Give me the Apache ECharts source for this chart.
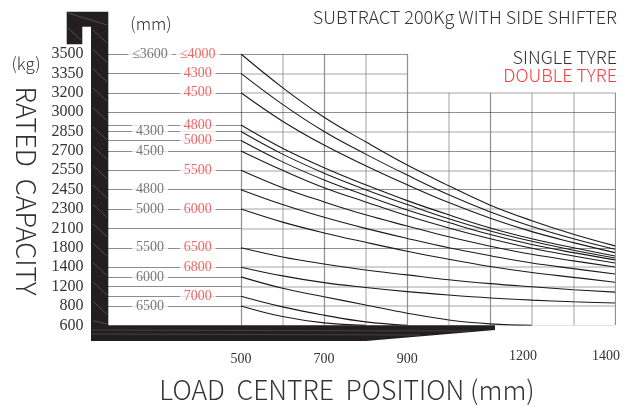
<!DOCTYPE html>
<html><head><meta charset="utf-8">
<script src="https://cdn.jsdelivr.net/npm/echarts@6/dist/echarts.min.js"></script>
<style>html,body{margin:0;padding:0;background:#fff}#c{width:643px;height:408px}</style>
</head><body><div id="c"></div>
<script>
// ---- data ----
const capacityLevels = [600,800,1200,1400,1800,2100,2300,2450,2550,2700,2850,3000,3200,3350,3500];
const loadCentres = [500,600,700,800,900,1000,1100,1200,1300,1400];
const xTickLabels = [500,700,900];
const xTickLabelsFar = [1200,1400];
const singleTyreLabels = ['≤3600','','','','4300','','4500','','4800','5000','5500','','6000','','6500'];
const doubleTyreLabels = ['≤4000','4300','4500','4800','','5000','','5500','','6000','6500','6800','','7000',''];
const curve01 = [3500,3240,2960,2770,2590,2470,2330,2180,2010,1830];
const curve02 = [3350,3080,2850,2675,2525,2410,2270,2120,1940,1770];
const curve03 = [3200,2930,2745,2585,2475,2350,2205,2050,1880,1700];
const curve04 = [2900,2720,2570,2475,2365,2240,2105,1940,1800,1630];
const curve05 = [2850,2675,2535,2450,2335,2200,2060,1900,1750,1590];
const curve06 = [2780,2615,2500,2405,2290,2160,2005,1850,1700,1550];
const curve07 = [2700,2550,2460,2355,2230,2105,1940,1790,1630,1485];
const curve08 = [2550,2460,2355,2240,2125,1970,1825,1665,1530,1405];
const curve09 = [2450,2335,2215,2100,1945,1800,1635,1485,1385,1330];
const curve10 = [2300,2165,2030,1885,1730,1565,1415,1345,1295,1245];
const curve11 = [1800,1610,1465,1370,1320,1270,1230,1195,1135,1085];
const curve12 = [1400,1310,1240,1180,1095,1025,965,920,885,860];
const curve13 = [1300,1165,990,820,725,655,615,600];
const curve14 = [1000,790,705,635,600];
const curve15 = [800,690,625,600];
const plainRows = [3000,2100,1200];

// ---- build ----
const curves = [curve01,curve02,curve03,curve04,curve05,curve06,curve07,curve08,curve09,curve10,curve11,curve12,curve13,curve14,curve15];
function kgToRow(v){
  for(let i=0;i<capacityLevels.length-1;i++){
    const a=capacityLevels[i], b=capacityLevels[i+1];
    if(v<=b) return i+(v-a)/(b-a);
  }
  return capacityLevels.length-1;
}
const RED='#ef4040', GRAY='#555', INK='#1a1a1a';
const SERIF='"Liberation Serif","DejaVu Serif",serif';
const SANS='"Noto Sans CJK SC","Noto Sans",sans-serif';
const X_MIN=140, X_MAX=1400, MAST_X=180, SINGLE_X=281, DOUBLE_X=396;
const lastRow = capacityLevels.length-1;

const gridLines=[];
const darkX=[500,700,900,1100,1400];
loadCentres.forEach(x=>{
  const top = x<=900 ? lastRow : 12;
  const dark = darkX.includes(x);
  gridLines.push({coords:[[x,0],[x,top]],lineStyle:{color:dark?'#222':'#8a8a8a',width:dark?1.2:1.6}});
});
const grayRows=[1,2,3,5,6,8,10,12,13];
capacityLevels.forEach((v,i)=>{
  const right = i<=12 ? 1400 : 900;
  const dark = !grayRows.includes(i);
  gridLines.push({coords:[[500,i],[right,i]],lineStyle:{color:dark?'#222':'#8a8a8a',width:dark?1.2:1.6}});
});
const stubs=[];
curves.forEach(c=>{ stubs.push({coords:[[MAST_X,kgToRow(c[0])],[500,kgToRow(c[0])]]}); });
plainRows.forEach(v=>{ stubs.push({coords:[[MAST_X,kgToRow(v)],[500,kgToRow(v)]]}); });

const labelData=[];
curves.forEach((c,i)=>{
  if(singleTyreLabels[i]) labelData.push({name:singleTyreLabels[i],value:[SINGLE_X,kgToRow(c[0])],label:{color:GRAY}});
  if(doubleTyreLabels[i]) labelData.push({name:doubleTyreLabels[i],value:[DOUBLE_X,kgToRow(c[0])],label:{color:RED}});
});

const series=[
  {type:'lines',coordinateSystem:'cartesian2d',silent:true,z:1,data:gridLines},
  {type:'lines',coordinateSystem:'cartesian2d',silent:true,z:2,lineStyle:{color:INK,width:1.2},data:stubs}
];
curves.forEach(c=>{
  series.push({type:'line',smooth:0.4,symbol:'none',silent:true,z:3,
    lineStyle:{color:INK,width:1.1},
    data:c.map((v,i)=>[loadCentres[i],kgToRow(v)])});
});
series.push({type:'scatter',symbolSize:2,itemStyle:{color:'rgba(0,0,0,0)'},z:5,silent:true,
  label:{show:true,position:'inside',formatter:p=>p.name,backgroundColor:'#fff',padding:[0,4],
    fontFamily:SERIF,fontSize:14},
  labelLayout:{hideOverlap:false},
  data:labelData});

// mast hatch decoration
const hatch=[];
for(let k=0;k<16;k++){
  const y=30+k*19.38;
  hatch.push({type:'line',z:11,shape:{x1:93,y1:y,x2:107,y2:Math.min(y+13,324)},style:{stroke:'#6a6a6a',lineWidth:0.6}});
}
hatch.push({type:'line',z:11,shape:{x1:68,y1:13,x2:107,y2:25},style:{stroke:'#6a6a6a',lineWidth:0.6}});
hatch.push({type:'line',z:11,shape:{x1:68,y1:28,x2:81,y2:40},style:{stroke:'#6a6a6a',lineWidth:0.6}});
hatch.push({type:'line',z:11,shape:{x1:92,y1:330,x2:470,y2:331},style:{stroke:'#555',lineWidth:0.6}});
hatch.push({type:'line',z:11,shape:{x1:92,y1:334,x2:420,y2:335},style:{stroke:'#555',lineWidth:0.6}});

const chart=echarts.init(document.getElementById('c'));
chart.setOption({
  animation:false,
  grid:{left:91.4,right:28,top:54,bottom:82.7,containLabel:false},
  xAxis:[
    {type:'value',min:X_MIN,max:X_MAX,position:'bottom',axisLine:{show:false},axisTick:{show:false},splitLine:{show:false},
      axisLabel:{customValues:xTickLabels,formatter:v=>String(v),margin:27,fontFamily:SERIF,fontSize:14,color:'#333'}},
    {type:'value',min:X_MIN,max:X_MAX,position:'bottom',offset:0,axisLine:{show:false},axisTick:{show:false},splitLine:{show:false},
      axisLabel:{customValues:xTickLabelsFar,formatter:v=>String(v),margin:24,padding:[0,18,0,0],fontFamily:SERIF,fontSize:14,color:'#333'}}
  ],
  yAxis:{type:'value',min:0,max:lastRow,interval:1,axisLine:{show:false},axisTick:{show:false},splitLine:{show:false},
    axisLabel:{margin:8,fontFamily:SERIF,fontSize:16,color:'#333',formatter:v=>String(capacityLevels[v])}},
  series:series,
  graphic:[
    {type:'polygon',z:10,shape:{points:[[66.7,11.7],[108.3,11.7],[108.3,341],[91,341],[91,26.7],[82.3,26.7],[82.3,44.3],[66.7,44.3]]},style:{fill:'#231f20'}},
    {type:'polygon',z:10,shape:{points:[[91,325.3],[495,325.3],[495,330],[366,341],[91,341]]},style:{fill:'#231f20'}},
    ...hatch,
    {type:'text',x:151,y:24,style:{text:'(mm)',fontFamily:SANS,fontSize:17,fontWeight:300,fill:'#333',align:'center',verticalAlign:'middle'}},
    {type:'text',x:26,y:64,style:{text:'(kg)',fontFamily:SANS,fontSize:17,fontWeight:300,fill:'#333',align:'center',verticalAlign:'middle'}},
    {type:'text',x:26,y:191,rotation:-Math.PI/2,style:{text:'RATED  CAPACITY',fontFamily:SANS,fontSize:27,fontWeight:300,fill:'#333',align:'center',verticalAlign:'middle'}},
    {type:'text',x:617,y:17,style:{text:'SUBTRACT 200Kg WITH SIDE SHIFTER',fontFamily:SANS,fontSize:18,fontWeight:300,fill:'#333',align:'right',verticalAlign:'middle'}},
    {type:'text',x:617,y:57,style:{text:'SINGLE TYRE',fontFamily:SANS,fontSize:18,fontWeight:300,fill:'#333',align:'right',verticalAlign:'middle'}},
    {type:'text',x:617,y:75,style:{text:'DOUBLE TYRE',fontFamily:SANS,fontSize:18,fontWeight:300,fill:RED,align:'right',verticalAlign:'middle'}},
    {type:'text',x:347,y:390,style:{text:'LOAD  CENTRE  POSITION (mm)',fontFamily:SANS,fontSize:26.5,fontWeight:300,fill:'#333',align:'center',verticalAlign:'middle'}}
  ]
});
</script></body></html>
